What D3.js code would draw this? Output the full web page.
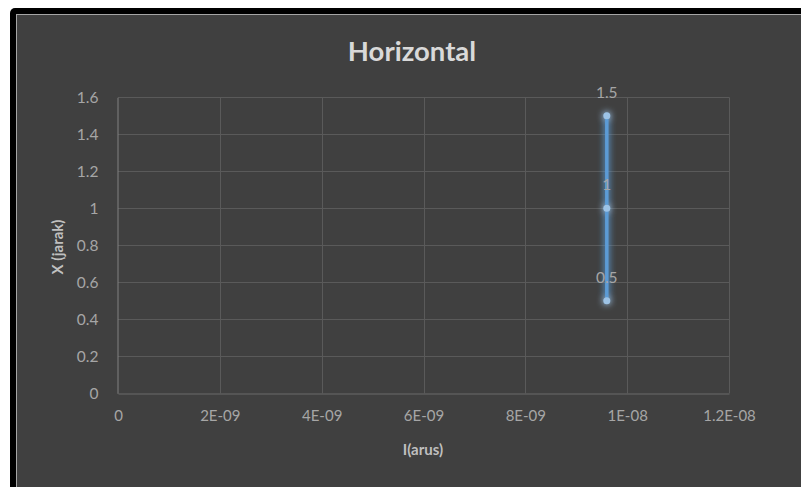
<!DOCTYPE html>
<html>
<head>
<meta charset="utf-8">
<script src="https://cdn.jsdelivr.net/npm/d3@7"></script>
<style>
  html, body { margin: 0; padding: 0; background: #ffffff; overflow: hidden; }
  svg { display: block; }
  text { font-family: Lato, "Open Sans", sans-serif; }
</style>
</head>
<body>
<script>
// Data
const currentI = [9.6e-9, 9.6e-9, 9.6e-9];
const distanceX = [0.5, 1, 1.5];
const xTicks = [0, 2e-9, 4e-9, 6e-9, 8e-9, 1e-8, 1.2e-8];
const xTickLabels = ["0", "2E-09", "4E-09", "6E-09", "8E-09", "1E-08", "1.2E-08"];
const yTicks = [0, 0.2, 0.4, 0.6, 0.8, 1, 1.2, 1.4, 1.6];
const yTickLabels = ["0", "0.2", "0.4", "0.6", "0.8", "1", "1.2", "1.4", "1.6"];
const titleText = "Horizontal";
const xTitle = "I(arus)";
const yTitle = "X (jarak)";

const W = 801, H = 487;
const svg = d3.select("body").append("svg").attr("width", W).attr("height", H);

// frame
svg.append("rect").attr("x", 10).attr("y", 8).attr("width", W + 20).attr("height", H + 20)
  .attr("rx", 5).attr("fill", "#000000");
svg.append("rect").attr("x", 16.5).attr("y", 14.5).attr("width", W + 20).attr("height", H + 20)
  .attr("fill", "#404040").attr("stroke", "#a6a6a6").attr("stroke-width", 1);

const defs = svg.append("defs");
const glow = defs.append("filter").attr("id", "glow")
  .attr("x", "-100%").attr("y", "-20%").attr("width", "300%").attr("height", "140%");
glow.append("feGaussianBlur").attr("in", "SourceGraphic").attr("stdDeviation", 3.5).attr("result", "b");
glow.append("feComponentTransfer").attr("in", "b").attr("result", "b2")
  .append("feFuncA").attr("type", "linear").attr("slope", 1.4);
const m = glow.append("feMerge");
m.append("feMergeNode").attr("in", "b2");
m.append("feMergeNode").attr("in", "SourceGraphic");

const plot = { left: 118, right: 729, top: 97.3, bottom: 393.3 };
const x = d3.scaleLinear().domain([0, 1.2e-8]).range([plot.left, plot.right]);
const y = d3.scaleLinear().domain([0, 1.6]).range([plot.bottom, plot.top]);

// gridlines
const g = svg.append("g");
g.selectAll(".hg").data(yTicks.slice(1)).join("line")
  .attr("x1", plot.left).attr("x2", plot.right)
  .attr("y1", d => Math.round(y(d)) + 0.5).attr("y2", d => Math.round(y(d)) + 0.5)
  .attr("stroke", "#5a5a5a").attr("stroke-width", 1);
g.selectAll(".vg").data(xTicks.slice(1)).join("line")
  .attr("y1", plot.top).attr("y2", plot.bottom)
  .attr("x1", d => Math.round(x(d)) + 0.5).attr("x2", d => Math.round(x(d)) + 0.5)
  .attr("stroke", "#5a5a5a").attr("stroke-width", 1);

// axes via d3
const xAxis = d3.axisBottom(x).tickValues(xTicks).tickFormat((d, i) => xTickLabels[i]).tickSize(0).tickPadding(17);
const yAxis = d3.axisLeft(y).tickValues(yTicks).tickFormat((d, i) => yTickLabels[i]).tickSize(0).tickPadding(19);

const xa = svg.append("g").attr("transform", `translate(0,${Math.round(plot.bottom) + 0.5})`).call(xAxis);
xa.select(".domain").attr("stroke", "#6a6a6a");
xa.selectAll("text").attr("fill", "#a6a6a6").style("font-size", "15px").style("font-family", "Lato, sans-serif");

const ya = svg.append("g").attr("transform", `translate(${plot.left - 0.5},0)`).call(yAxis);
ya.select(".domain").attr("stroke", "#808080");
ya.selectAll("text").attr("fill", "#a6a6a6").style("font-size", "15.5px").style("font-family", "Lato, sans-serif");

// series
const pts = currentI.map((v, i) => ({ x: v, y: distanceX[i] }));
const line = d3.line().x(d => x(d.x)).y(d => y(d.y));
const series = svg.append("g").attr("filter", "url(#glow)");
series.append("path").datum(pts).attr("d", line)
  .attr("fill", "none").attr("stroke", "#5b9bd5").attr("stroke-width", 3.5);
series.selectAll("circle").data(pts).join("circle")
  .attr("cx", d => x(d.x)).attr("cy", d => y(d.y)).attr("r", 3.5)
  .attr("fill", "#9dc3e6");

// data labels
svg.selectAll(".lbl").data(pts).join("text")
  .attr("x", d => x(d.x)).attr("y", d => y(d.y) - 18)
  .attr("text-anchor", "middle").attr("fill", "#a6a6a6")
  .style("font-size", "15.5px").text(d => String(d.y));

// titles
svg.append("text").attr("x", 412).attr("y", 61).attr("text-anchor", "middle")
  .attr("fill", "#d9d9d9").style("font-size", "27.5px").style("font-weight", "bold").text(titleText);
svg.append("text").attr("x", 423).attr("y", 455).attr("text-anchor", "middle")
  .attr("fill", "#bfbfbf").style("font-size", "15px").style("font-weight", "bold").text(xTitle);
svg.append("text").attr("transform", "translate(63,247) rotate(-90)").attr("text-anchor", "middle")
  .attr("fill", "#bfbfbf").style("font-size", "15px").style("font-weight", "bold").text(yTitle);
</script>
</body>
</html>
